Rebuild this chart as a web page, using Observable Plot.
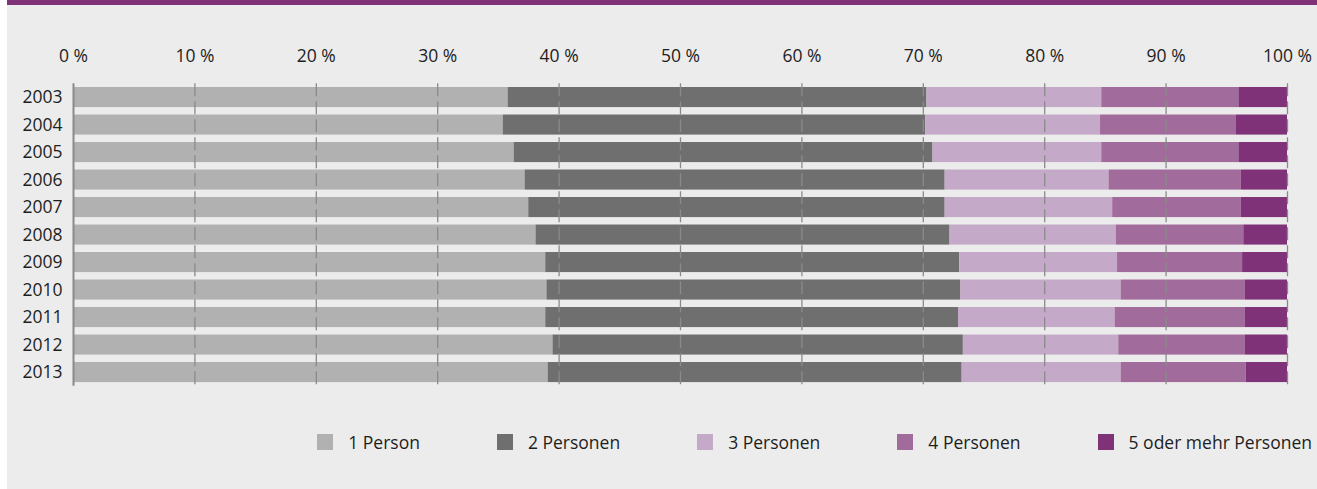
<!DOCTYPE html>
<html>
<head>
<meta charset="utf-8">
<script src="https://cdn.jsdelivr.net/npm/d3@7"></script>
<script src="https://cdn.jsdelivr.net/npm/@observablehq/plot@0.6"></script>
<style>
  html, body { margin: 0; padding: 0; background: #ffffff; }
  #wrap { position: absolute; left: 7px; top: 0; width: 1310px; height: 489px; background: #ececec;
          font-family: "Open Sans", sans-serif; font-weight: 400; color: #1e1e1e; }
  #band { height: 5px; background: #7f3278; }
  #chart { position: absolute; left: 0; top: 5px; }
  #legend { position: absolute; top: 434px; right: 5px; display: flex; gap: 77px; align-items: center; height: 16px; font-size: 17.5px; }
  .item { display: flex; align-items: center; white-space: nowrap; }
  .sw { width: 16px; height: 16px; margin-right: 15px; }
</style>
</head>
<body>
<div id="wrap">
  <div id="band"></div>
  <div id="chart"></div>
  <div id="legend"></div>
</div>
<script>
const years = ["2003","2004","2005","2006","2007","2008","2009","2010","2011","2012","2013"];
const categories = ["1 Person","2 Personen","3 Personen","4 Personen","5 oder mehr Personen"];
const colors = ["#b1b1b2","#6f6f6f","#c5a9c8","#a16b9b","#7f3278"];
const person1 = [35.8, 35.4, 36.3, 37.2, 37.5, 38.1, 38.9, 39.0, 38.9, 39.5, 39.1];
const person2 = [34.5, 34.8, 34.5, 34.6, 34.3, 34.1, 34.1, 34.1, 34.0, 33.8, 34.1];
const person3 = [14.4, 14.4, 13.9, 13.5, 13.8, 13.7, 13.0, 13.2, 12.9, 12.8, 13.1];
const person4 = [11.3, 11.2, 11.3, 10.9, 10.6, 10.5, 10.3, 10.2, 10.7, 10.4, 10.3];
const person5 = [4.0, 4.2, 4.0, 3.8, 3.8, 3.6, 3.7, 3.5, 3.5, 3.5, 3.4];
const xTicks = [0, 10, 20, 30, 40, 50, 60, 70, 80, 90, 100];

const series = [person1, person2, person3, person4, person5];
const data = [];
years.forEach((y, i) => {
  categories.forEach((c, j) => data.push({year: y, category: c, value: series[j][i]}));
});

const chart = Plot.plot({
  width: 1310,
  height: 400,
  marginLeft: 66,
  marginRight: 30,
  marginTop: 78.3,
  marginBottom: 19.2,
  style: {fontSize: "17.5px", fontFamily: "'Open Sans', sans-serif", fontWeight: 400, color: "#1e1e1e", background: "transparent"},
  x: {domain: [0, 100]},
  y: {domain: years, paddingInner: 0.27, paddingOuter: 0.135, round: false},
  color: {domain: categories, range: colors},
  marks: [
    Plot.barX(data, Plot.stackX({y: "year", x: "value", fill: "category", order: null})),
    Plot.ruleX(xTicks.slice(1), {stroke: "#8a8a8a", strokeWidth: 1.3, strokeDasharray: "13,5"}),
    Plot.ruleX([0], {stroke: "#8a8a8a", strokeWidth: 2}),
    Plot.axisX({anchor: "top", ticks: xTicks, tickFormat: d => d + " %", tickSize: 0, tickPadding: 22, label: null}),
    Plot.axisY({tickSize: 0, tickPadding: 11, label: null})
  ]
});
document.getElementById("chart").appendChild(chart);

const legend = document.getElementById("legend");
categories.forEach((c, i) => {
  const item = document.createElement("div");
  item.className = "item";
  const sw = document.createElement("div");
  sw.className = "sw";
  sw.style.background = colors[i];
  const t = document.createElement("span");
  t.textContent = c;
  item.appendChild(sw);
  item.appendChild(t);
  legend.appendChild(item);
});
</script>
</body>
</html>
